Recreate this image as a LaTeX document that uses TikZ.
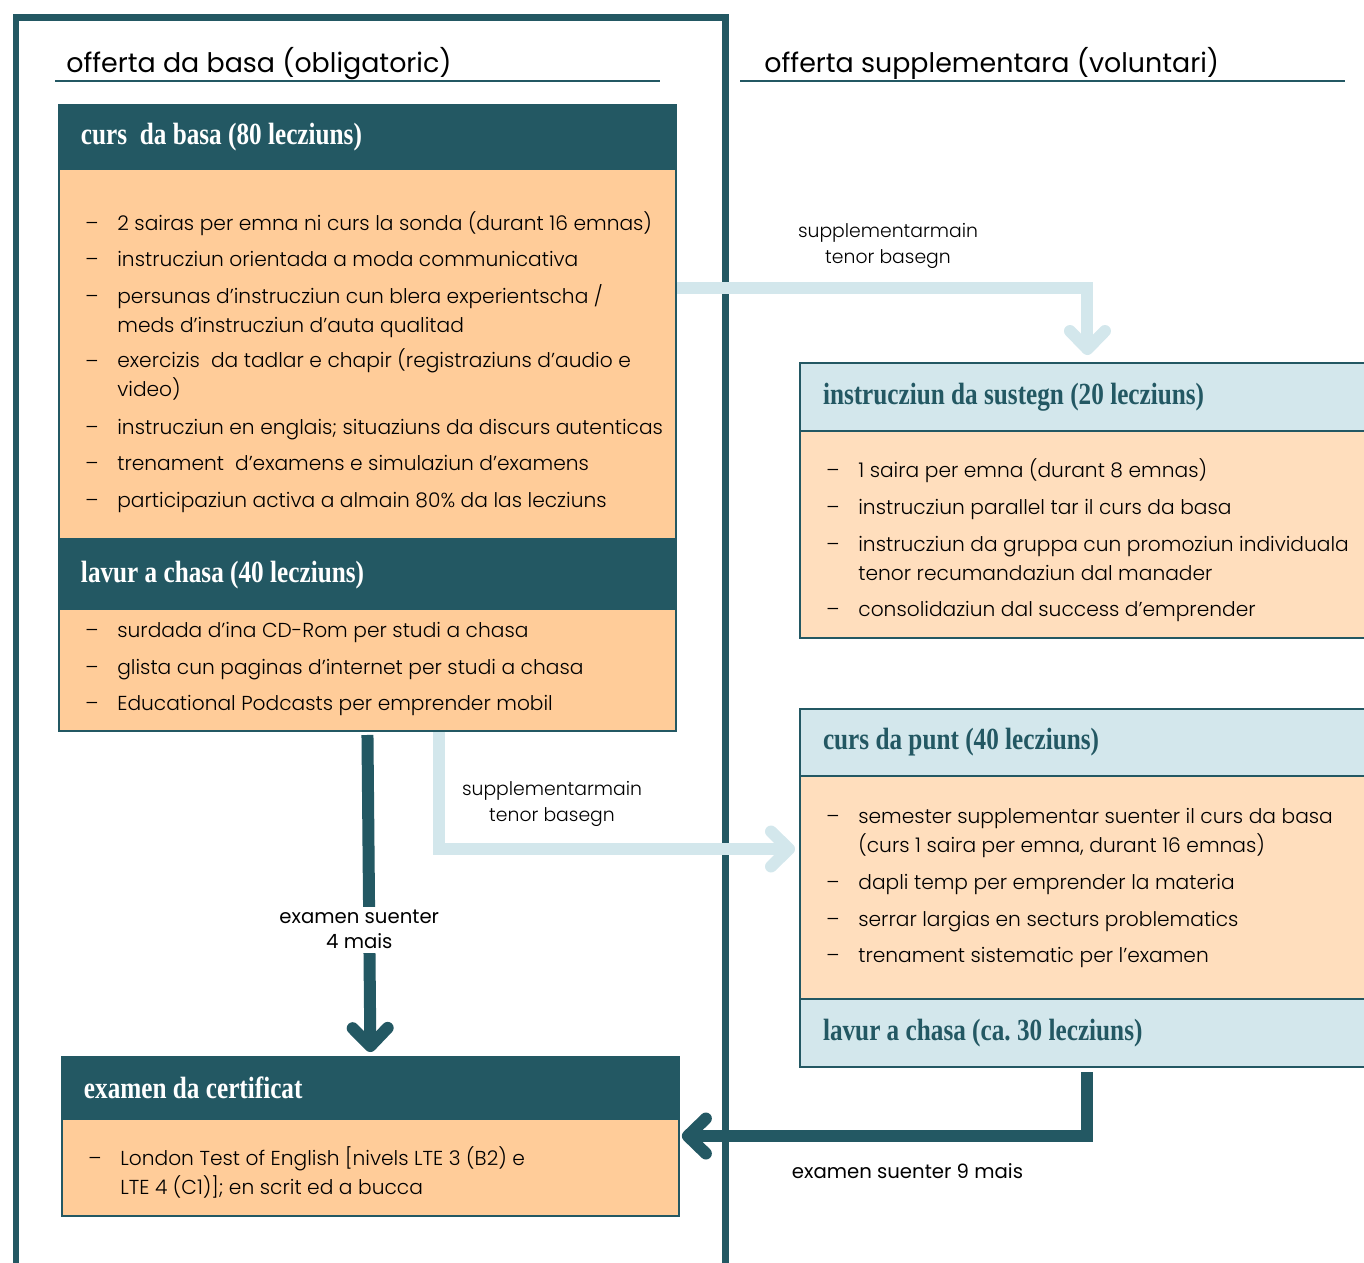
\documentclass[tikz,border=0pt]{standalone}
\usepackage{fontspec}
\usetikzlibrary{arrows.meta}
\setmainfont{Liberation Serif}
\newfontfamily\headfont{Liberation Serif}[FakeStretch=0.82]
\newfontfamily\bodyfont{Poppins Light}
\newfontfamily\labelfont{Poppins}

\definecolor{tealdark}{HTML}{235863}
\definecolor{apricot}{HTML}{FFCC99}
\definecolor{peach}{HTML}{FFDEBD}
\definecolor{iceblue}{HTML}{D3E7EC}

\tikzstyle{box}=[anchor=north west,draw=tealdark,line width=0.04cm,inner sep=0pt]
\tikzstyle{darkhead}=[box,fill=tealdark,text=white,inner xsep=0.44cm,text width=11.46cm,align=left,font=\headfont\bfseries\fontsize{17.5}{19}\selectfont,execute at begin node={\spaceskip=3.6pt\relax}]
\tikzstyle{lighthead}=[box,fill=iceblue,text=tealdark,inner xsep=0.46cm,text width=10.58cm,align=left,font=\headfont\bfseries\fontsize{17.5}{19}\selectfont,execute at begin node={\spaceskip=3.6pt\relax}]
\tikzstyle{orangebody}=[box,fill=apricot,minimum width=12.34cm]
\tikzstyle{peachbody}=[box,fill=peach,minimum width=11.5cm]
\tikzstyle{item}=[anchor=base west,inner sep=0pt,align=left,font=\bodyfont\fontsize{11.5}{16.4}\selectfont]
\tikzstyle{heading}=[anchor=base west,inner sep=0pt,font=\labelfont\fontsize{15.3}{19}\selectfont]
\tikzstyle{flowlabel}=[align=center,inner sep=2pt,font=\bodyfont\fontsize{10.7}{14.4}\selectfont]
\tikzstyle{examlabel}=[align=center,inner sep=2pt,font=\labelfont\fontsize{11.2}{14.4}\selectfont]
\tikzstyle{darkflow}=[draw=tealdark,line width=0.24cm,line join=miter,-{Straight Barb[round,length=0.36cm,width=0.7cm]}]
\tikzstyle{lightflow}=[draw=iceblue,line width=0.24cm,line join=miter,-{Straight Barb[round,length=0.36cm,width=0.7cm]}]
\newcommand{\pxscale}{0.02cm}

\begin{document}
\begin{tikzpicture}[x=\pxscale,y=-\pxscale]
    \useasboundingbox (0,0) rectangle (1364,1262);
    % frame and the two columns
    \draw[tealdark,line width=0.14cm,line join=miter] (16,1270) -- (16,17) -- (725,17) -- (725,1270);
    \node[heading] (basaTitle) at (66,72) {offerta da basa (obligatoric)};
    \node[heading] (suppTitle) at (764,72) {offerta supplementara (voluntari)};
    \draw[tealdark,line width=0.04cm] (55,81) -- (660,81);
    \draw[tealdark,line width=0.04cm] (740,81) -- (1345,81);

    % left column boxes
    \node[darkhead,minimum height=1.28cm] (cursHead) at (58,104) {curs\ \ da basa (80 lecziuns)};
    \node[orangebody,minimum height=7.4cm] (cursBody) at (58,168) {};
    \node[darkhead,minimum height=1.36cm] (lavurHead) at (58,540) {lavur a chasa (40 lecziuns)};
    \node[orangebody,minimum height=2.44cm] (lavurBody) at (58,608) {};
    \node[darkhead,minimum height=1.24cm] (examHead) at (61,1056) {examen da certificat};
    \node[orangebody,minimum height=1.94cm] (examBody) at (61,1118) {};

    % right column boxes
    \node[lighthead,minimum height=1.36cm] (sustHead) at (799,362) {instrucziun da sustegn (20 lecziuns)};
    \node[peachbody,minimum height=4.14cm] (sustBody) at (799,430) {};
    \node[lighthead,minimum height=1.34cm] (puntHead) at (799,708) {curs da punt (40 lecziuns)};
    \node[peachbody,minimum height=4.46cm] (puntBody) at (799,775) {};
    \node[lighthead,minimum height=1.36cm] (puntFoot) at (799,998) {lavur a chasa (ca.\ 30 lecziuns)};

    % list items (first line / last line baselines)
    \foreach \y/\z/\name/\txt in {230/230/ca/{2 sairas per emna ni curs la sonda (durant 16 emnas)},
        266/266/cb/{instrucziun orientada a moda communicativa},
        303/332/cc/{persunas d’instrucziun cun blera experientscha /\\meds d’instrucziun d’auta qualitad},
        368/396/cd/{exercizis\ \ da tadlar e chapir (registraziuns d’audio e\\video)},
        434/434/ce/{instrucziun en englais; situaziuns da discurs autenticas},
        470/470/cf/{trenament\ \ d’examens e simulaziun d’examens},
        507/507/cg/{participaziun activa a almain 80\% da las lecziuns},
        637/637/la/{surdada d’ina CD-Rom per studi a chasa},
        674/674/lb/{glista cun paginas d’internet per studi a chasa},
        710/710/lc/{Educational Podcasts per emprender mobil}} {
        \node[item] (\name) at (117,\z) {\txt};
        \node[item] (d\name) at (85,\y) {–};
    }
    \node[item] (ea) at (120,1194) {London Test of English [nivels LTE 3 (B2) e\\LTE 4 (C1)]; en scrit ed a bucca};
    \node[item] (dea) at (88,1165) {–};
    \foreach \y/\z/\name/\txt in {477/477/sa/{1 saira per emna (durant 8 emnas)},
        514/514/sb/{instrucziun parallel tar il curs da basa},
        551/580/sc/{instrucziun da gruppa cun promoziun individuala\\tenor recumandaziun dal manader},
        616/616/sd/{consolidaziun dal success d’emprender},
        823/852/pa/{semester supplementar suenter il curs da basa\\(curs 1 saira per emna, durant 16 emnas)},
        889/889/pb/{dapli temp per emprender la materia},
        926/926/pc/{serrar largias en secturs problematics},
        962/962/pd/{trenament sistematic per l’examen}} {
        \node[item] (\name) at (858,\z) {\txt};
        \node[item] (d\name) at (826,\y) {–};
    }

    % connections
    \draw[darkflow,shorten <=0.06cm,shorten >=0.08cm] (lavurBody.south) -- node[examlabel,fill=white,pos=0.61,xshift=-0.2cm] (fourLabel) {examen suenter\\4 mais} (examHead.north);
    \draw[darkflow,shorten <=0.08cm,shorten >=0.04cm] (puntFoot.south) |- ([yshift=0.63cm]examBody.east);
    \node[examlabel,anchor=west] (nineLabel) at (788,1171) {examen suenter 9 mais};
    \draw[lightflow,shorten >=0.14cm] ([yshift=1.32cm]cursBody.east) -| (sustHead.north);
    \draw[lightflow,shorten >=0.08cm] ([xshift=1.43cm]lavurBody.south) |- ([yshift=0.77cm]puntBody.west);
    \node[flowlabel] (supLabelA) at (888,246) {supplementarmain\\tenor basegn};
    \node[flowlabel] (supLabelB) at (552,804) {supplementarmain\\tenor basegn};
\end{tikzpicture}
\end{document}
